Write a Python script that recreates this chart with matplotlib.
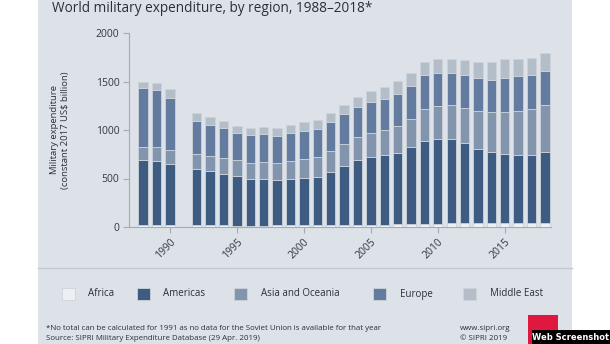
import matplotlib
matplotlib.use("Agg")
import matplotlib.pyplot as plt
from matplotlib.patches import Rectangle
import numpy as np

years = [1988, 1989, 1990, 1992, 1993, 1994, 1995, 1996, 1997, 1998, 1999,
         2000, 2001, 2002, 2003, 2004, 2005, 2006, 2007, 2008, 2009, 2010,
         2011, 2012, 2013, 2014, 2015, 2016, 2017, 2018]
africa = [20, 19, 18, 17, 16, 16, 15, 15, 15, 16, 18, 19, 19, 21, 21, 23, 24,
          25, 27, 31, 33, 35, 38, 40, 44, 45, 44, 42, 41, 41]
americas = [667, 661, 631, 578, 562, 534, 508, 481, 477, 469, 478, 490, 501,
            546, 611, 668, 697, 713, 735, 789, 849, 871, 865, 822, 763, 724,
            708, 700, 701, 728]
asia_oceania = [133, 140, 141, 154, 157, 158, 164, 164, 175, 175, 184, 188, 198,
                212, 222, 232, 250, 264, 277, 295, 335, 345, 355, 369, 393, 414,
                431, 458, 475, 493]
europe = [609, 588, 540, 341, 314, 311, 284, 287, 287, 277, 284, 294, 294, 305,
          308, 311, 315, 314, 332, 341, 345, 339, 332, 335, 332, 332, 352, 356,
          352, 351]
middle_east = [71, 76, 92, 82, 82, 78, 75, 75, 82, 85, 85, 93, 96, 95, 96, 110,
               112, 127, 130, 130, 141, 147, 147, 160, 171, 181, 195, 174, 178, 179]

regions = ["Africa", "Americas", "Asia and Oceania", "Europe", "Middle East"]
series = [africa, americas, asia_oceania, europe, middle_east]
colors = ["#eceff3", "#3e5b82", "#8394ad", "#637b9e", "#b4bec9"]

xticks = [1990, 1995, 2000, 2005, 2010, 2015]
yticks = [0, 500, 1000, 1500, 2000]

W, H = 610, 344
fig = plt.figure(figsize=(W / 100, H / 100), dpi=100)
fig.patch.set_facecolor("white")
panel_bg = "#dde2e8"
fig.patches.append(Rectangle((38 / W, 0), (572 - 38) / W, 1, transform=fig.transFigure,
                             facecolor=panel_bg, edgecolor="none", zorder=-10))
# separator line
fig.lines.append(plt.Line2D([38 / W, 572 / W], [1 - 268 / H, 1 - 268 / H],
                            transform=fig.transFigure, color="#c3cad3", lw=1.0))

ax = fig.add_axes([129 / W, 1 - 227 / H, (551 - 129) / W, (227 - 33) / H])
ax.set_facecolor("none")

bottom = np.zeros(len(years))
for vals, c in zip(series, colors):
    v = np.array(vals, dtype=float)
    ax.bar(years, v, bottom=bottom, width=0.7, color=c, edgecolor="#cdd3db",
           linewidth=0.6, zorder=3)
    bottom += v

ax.set_ylim(0, 2000)
ax.set_xlim(1986.95, 2018.45)
ax.set_yticks(yticks)
ax.set_yticklabels([str(t) for t in yticks])
ax.set_xticks(xticks)
ax.set_xticklabels([str(t) for t in xticks], rotation=45, ha="right",
                   va="top", rotation_mode="anchor")
for s in ["top", "right"]:
    ax.spines[s].set_visible(False)
for s in ["left", "bottom"]:
    ax.spines[s].set_color("#a3abb5")
    ax.spines[s].set_linewidth(0.8)
ax.tick_params(axis="both", colors="#a3abb5", length=4, width=0.8,
               labelcolor="#33383f", labelsize=7.5)
ax.tick_params(axis="x", pad=3)
ax.tick_params(axis="y", pad=3)
for lab in ax.get_yticklabels() + ax.get_xticklabels():
    lab.set_fontfamily("Open Sans")

fig.text(52 / W, 1 - 9 / H, "World military expenditure, by region, 1988\u20132018*",
         fontsize=9.8, color="#2b2f36", family="Open Sans", va="center", ha="left")

fig.text(60 / W, 1 - 130 / H, "Military expenditure\n(constant 2017 US$ billion)",
         rotation=90, fontsize=6.8, color="#2b2f36", family="Open Sans",
         va="center", ha="center", linespacing=1.2)

# legend
leg_y = 1 - 294 / H
sw_w, sw_h = 13 / W, 12 / H
sw_x = [62, 137, 234, 373, 463]
tx_x = [88, 163, 261, 400, 490]
for name, c, sx, tx in zip(regions, colors, sw_x, tx_x):
    fig.patches.append(Rectangle((sx / W, leg_y - sw_h / 2), sw_w, sw_h,
                                 transform=fig.transFigure, facecolor=c,
                                 edgecolor="#cdd3db", linewidth=0.6))
    fig.text(tx / W, leg_y, name, fontsize=7, color="#2b2f36", family="Open Sans",
             va="center", ha="left")

fig.text(46 / W, 1 - 328 / H,
         "*No total can be calculated for 1991 as no data for the Soviet Union is available for that year",
         fontsize=5.7, color="#2b2f36", family="Open Sans", va="center", ha="left")
fig.text(46 / W, 1 - 338 / H, "Source: SIPRI Military Expenditure Database (29 Apr. 2019)",
         fontsize=5.7, color="#2b2f36", family="Open Sans", va="center", ha="left")
fig.text(460 / W, 1 - 328 / H, "www.sipri.org", fontsize=5.7, color="#2b2f36",
         family="Open Sans", va="center", ha="left")
fig.text(460 / W, 1 - 338 / H, "\u00a9 SIPRI 2019", fontsize=5.7, color="#2b2f36",
         family="Open Sans", va="center", ha="left")

fig.patches.append(Rectangle((528 / W, 0), 30 / W, (344 - 315) / H,
                             transform=fig.transFigure, facecolor="#e0173f",
                             edgecolor="none"))
fig.patches.append(Rectangle((532 / W, 0), (610 - 532) / W, 14 / H,
                             transform=fig.transFigure, facecolor="black",
                             edgecolor="none", zorder=5))
fig.text(571 / W, 7 / H, "Web Screenshot", fontsize=6, color="white",
         fontweight="bold", family="DejaVu Sans", va="center", ha="center", zorder=6)

fig.savefig("out.png", dpi=100)
